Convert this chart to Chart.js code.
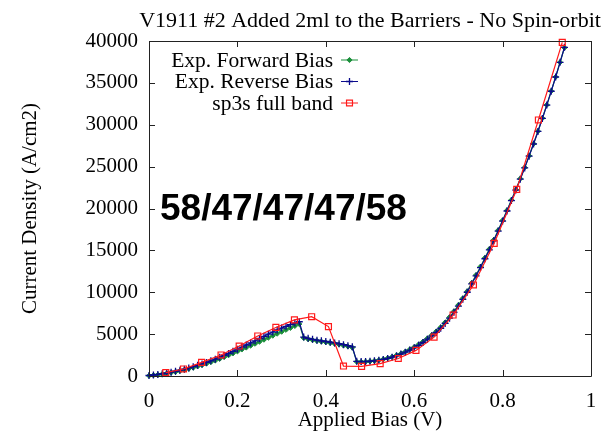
<!DOCTYPE html>
<html>
<head>
<meta charset="utf-8">
<script src="https://cdn.jsdelivr.net/npm/chart.js@4.4.0/dist/chart.umd.min.js"></script>
<style>
  html, body { margin: 0; padding: 0; background: #ffffff; }
  canvas { display: block; }
</style>
</head>
<body>
<canvas id="jv" width="602" height="431"></canvas>
<script>
// Measured J-V data (V1911 #2), bias in volts, current density in A/cm2
const expBias = [
  0.00, 0.01, 0.02, 0.03, 0.04, 0.05, 0.06, 0.07, 0.08, 0.09,
  0.10, 0.11, 0.12, 0.13, 0.14, 0.15, 0.16, 0.17, 0.18, 0.19,
  0.20, 0.21, 0.22, 0.23, 0.24, 0.25, 0.26, 0.27, 0.28, 0.29,
  0.30, 0.31, 0.32, 0.33, 0.34, 0.35, 0.36, 0.37, 0.38, 0.39,
  0.40, 0.41, 0.42, 0.43, 0.44, 0.45, 0.46, 0.47, 0.48, 0.49,
  0.50, 0.51, 0.52, 0.53, 0.54, 0.55, 0.56, 0.57, 0.58, 0.59,
  0.60, 0.61, 0.62, 0.63, 0.64, 0.65, 0.66, 0.67, 0.68, 0.69,
  0.70, 0.71, 0.72, 0.73, 0.74, 0.75, 0.76, 0.77, 0.78, 0.79,
  0.80, 0.81, 0.82, 0.83, 0.84, 0.85, 0.86, 0.87, 0.88, 0.89,
  0.90, 0.91, 0.92, 0.93, 0.94
];

const forwardCurrent = [
  30, 90, 150, 230, 310, 400, 500, 610, 730, 860,
  1000, 1150, 1310, 1480, 1660, 1850, 2050, 2260, 2480, 2710,
  2940, 3170, 3400, 3630, 3860, 4100, 4340, 4580, 4820, 5060,
  5290, 5520, 5750, 5980, 6200, 4550, 4400, 4290, 4190, 4110,
  4030, 3950, 3860, 3760, 3650, 3530, 3400, 1700, 1690, 1710,
  1750, 1810, 1890, 2000, 2130, 2290, 2470, 2680, 2910, 3170,
  3450, 3760, 4100, 4490, 4900, 5320, 5820, 6400, 7020, 7720,
  8470, 9270, 10120, 11100, 12050, 13050, 14100, 15150, 16250, 17400,
  18580, 19780, 21020, 22270, 23560, 24900, 26300, 27730, 29230, 30780,
  32370, 34020, 35710, 37460, 39200
];

const reverseCurrent = [
  60, 120, 190, 270, 360, 460, 570, 690, 820, 960,
  1110, 1270, 1440, 1620, 1810, 2010, 2230, 2460, 2700, 2950,
  3200, 3450, 3700, 3950, 4200, 4480, 4740, 5000, 5250, 5500,
  5720, 5930, 6130, 6320, 6480, 4650, 4500, 4380, 4280, 4200,
  4120, 4040, 3950, 3850, 3740, 3620, 3480, 1750, 1720, 1730,
  1760, 1810, 1880, 1980, 2100, 2250, 2420, 2620, 2840, 3090,
  3360, 3660, 4000, 4400, 4800, 5200, 5700, 6280, 6900, 7600,
  8350, 9150, 10000, 11000, 11950, 12950, 14000, 15050, 16150, 17300,
  18500, 19700, 20950, 22200, 23500, 24850, 26250, 27700, 29200, 30750,
  32350, 34000, 35700, 37450, 39250
];

// sp3s full-band simulation
const sp3sBias = [
  0.038, 0.078, 0.119, 0.163, 0.204, 0.246, 0.287, 0.329, 0.368, 0.406,
  0.440, 0.481, 0.523, 0.564, 0.604, 0.645, 0.688, 0.734, 0.781, 0.832,
  0.881, 0.935
];
const sp3sCurrent = [
  400, 840, 1630, 2510, 3580, 4780, 5800, 6700, 7080, 5900,
  1190, 1150, 1480, 2090, 3060, 4640, 7280, 10870, 15840, 22290,
  30570, 39840
];

const xTicks = [0, 0.2, 0.4, 0.6, 0.8, 1];
const yTicks = [0, 5000, 10000, 15000, 20000, 25000, 30000, 35000, 40000];

const seriesNames = ['Exp. Forward Bias', 'Exp. Reverse Bias', 'sp3s full band'];
const chartTitle = 'V1911 #2 Added 2ml to the Barriers - No Spin-orbit';
const xTitle = 'Applied Bias (V)';
const yTitle = 'Current Density (A/cm2)';
const layerLabel = '58/47/47/47/58';

const SERIF = '"Liberation Serif", "Times New Roman", serif';
const SANS = '"Liberation Sans", Arial, sans-serif';

const toPoints = (xs, ys) => xs.map((x, i) => ({ x: x, y: ys[i] }));

const GREEN = '#1b8f3a';
const BLUE = '#0a0a8c';
const RED = '#ff1a1a';

// Frame, inward tick marks on all four sides, titles, key and annotation
const decorations = {
  id: 'decorations',
  afterDraw(chart) {
    const ctx = chart.ctx;
    const a = chart.chartArea;
    const xs = chart.scales.x, ys = chart.scales.y;
    const tl = 6;
    ctx.save();
    ctx.strokeStyle = '#222';
    ctx.lineWidth = 1;
    ctx.beginPath();
    ctx.rect(Math.round(a.left) + 0.5, Math.round(a.top) + 0.5,
             Math.round(a.right - a.left), Math.round(a.bottom - a.top));
    xTicks.forEach(v => {
      const px = Math.round(xs.getPixelForValue(v)) + 0.5;
      ctx.moveTo(px, a.bottom); ctx.lineTo(px, a.bottom - tl);
      ctx.moveTo(px, a.top); ctx.lineTo(px, a.top + tl);
    });
    yTicks.forEach(v => {
      const py = Math.round(ys.getPixelForValue(v)) + 0.5;
      ctx.moveTo(a.left, py); ctx.lineTo(a.left + tl, py);
      ctx.moveTo(a.right, py); ctx.lineTo(a.right - tl, py);
    });
    ctx.stroke();

    // chart title
    ctx.fillStyle = '#000';
    ctx.font = '22px ' + SERIF;
    ctx.textAlign = 'center';
    ctx.textBaseline = 'alphabetic';
    ctx.fillText(chartTitle, (a.left + a.right) / 2, 27);

    // axis titles
    ctx.font = '21px ' + SERIF;
    ctx.fillText(xTitle, (a.left + a.right) / 2, 426);
    ctx.save();
    ctx.translate(36, (a.top + a.bottom) / 2);
    ctx.rotate(-Math.PI / 2);
    ctx.fillText(yTitle, 0, 0);
    ctx.restore();

    // key
    const rows = [60, 81.5, 103];
    chart.data.datasets.forEach((ds, i) => {
      const y = rows[i];
      ctx.fillStyle = '#000';
      ctx.font = '21.5px ' + SERIF;
      ctx.textAlign = 'right';
      ctx.textBaseline = 'middle';
      ctx.fillText(seriesNames[i], 333, y + 1);
      ctx.strokeStyle = ds.borderColor;
      ctx.lineWidth = 1;
      ctx.beginPath();
      ctx.moveTo(341, y); ctx.lineTo(358, y);
      ctx.stroke();
      ctx.fillStyle = ds.pointBackgroundColor;
      ctx.strokeStyle = ds.pointBorderColor;
      ctx.lineWidth = ds.pointBorderWidth;
      Chart.helpers.drawPoint(ctx, {
        pointStyle: ds.pointStyle,
        radius: ds.pointRadius,
        borderWidth: ds.pointBorderWidth
      }, 349.5, y);
    });

    // layer-thickness annotation
    ctx.fillStyle = '#000';
    ctx.font = 'bold 37px ' + SANS;
    ctx.textAlign = 'left';
    ctx.textBaseline = 'alphabetic';
    ctx.fillText(layerLabel, 160, 220);
    ctx.restore();
  }
};

new Chart(document.getElementById('jv'), {
  type: 'line',
  data: {
    datasets: [
      {
        label: seriesNames[0],
        data: toPoints(expBias, forwardCurrent),
        borderColor: GREEN,
        borderWidth: 1.2,
        pointStyle: 'rectRot',
        pointRadius: 2.6,
        pointBackgroundColor: GREEN,
        pointBorderColor: GREEN,
        pointBorderWidth: 1,
        tension: 0,
        order: 3,
        clip: 6
      },
      {
        label: seriesNames[1],
        data: toPoints(expBias, reverseCurrent),
        borderColor: BLUE,
        borderWidth: 1.2,
        pointStyle: 'cross',
        pointRadius: 3.5,
        pointBackgroundColor: BLUE,
        pointBorderColor: BLUE,
        pointBorderWidth: 1.3,
        tension: 0,
        order: 2,
        clip: 6
      },
      {
        label: seriesNames[2],
        data: toPoints(sp3sBias, sp3sCurrent),
        borderColor: RED,
        borderWidth: 1.2,
        pointStyle: 'rect',
        pointRadius: 4.2,
        pointBackgroundColor: 'rgba(255,255,255,0)',
        pointBorderColor: RED,
        pointBorderWidth: 1.2,
        tension: 0,
        order: 1,
        clip: 6
      }
    ]
  },
  options: {
    responsive: false,
    animation: false,
    devicePixelRatio: 1,
    layout: { padding: { left: 0, right: 11, top: 41, bottom: 0 } },
    plugins: {
      legend: { display: false },
      title: { display: false },
      tooltip: { enabled: false }
    },
    scales: {
      x: {
        type: 'linear',
        min: 0,
        max: 1,
        afterFit: s => { s.height = 55; s.paddingLeft = 0; s.paddingRight = 0; },
        afterBuildTicks: s => { s.ticks = xTicks.map(v => ({ value: v })); },
        grid: { display: false, drawTicks: false },
        border: { display: false },
        ticks: {
          padding: 13,
          color: '#000',
          font: { family: SERIF, size: 21 },
          maxRotation: 0,
          autoSkip: false,
          callback: v => String(v)
        }
      },
      y: {
        type: 'linear',
        min: 0,
        max: 40000,
        afterFit: s => { s.width = 149; s.paddingTop = 0; s.paddingBottom = 0; },
        afterBuildTicks: s => { s.ticks = yTicks.map(v => ({ value: v })); },
        grid: { display: false, drawTicks: false },
        border: { display: false },
        ticks: {
          padding: 11,
          color: '#000',
          font: { family: SERIF, size: 21 },
          autoSkip: false,
          callback: v => String(v)
        }
      }
    }
  },
  plugins: [decorations]
});
</script>
</body>
</html>
